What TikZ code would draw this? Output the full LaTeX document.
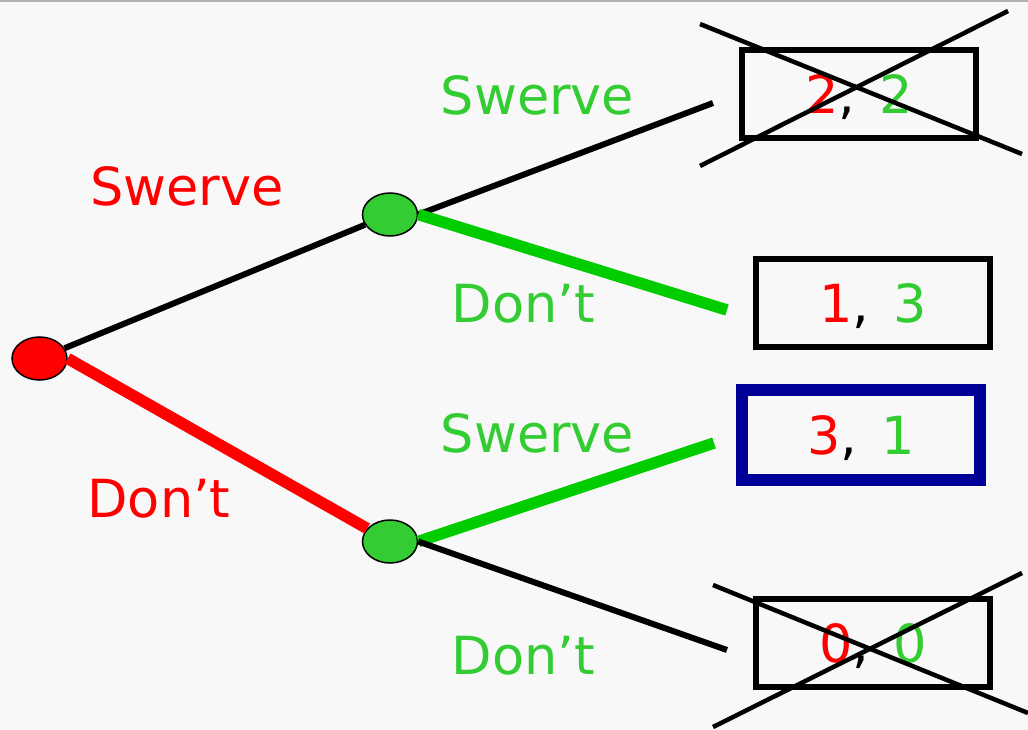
\documentclass[tikz,border=0pt]{standalone}
\usepackage{fontspec}
\setmainfont{DejaVu Sans}
\usetikzlibrary{shapes.geometric}
\definecolor{pred}{RGB}{255,0,0}
\definecolor{pgreen}{RGB}{51,204,51}
\definecolor{lgreen}{RGB}{0,204,0}
\definecolor{pnavy}{RGB}{0,0,153}
\definecolor{paper}{RGB}{248,248,248}
\newcommand{\pay}[2]{\textcolor{pred}{#1},\hspace{0.45em}\textcolor{pgreen}{#2}}

\begin{document}
\begin{tikzpicture}[x=1pt,y=1pt,
        every node/.style={inner sep=0pt, font=\fontsize{52.5}{60}\selectfont},
        move/.style={ellipse, draw=black, line width=1.5pt, minimum width=55pt, minimum height=43pt},
        payoff/.style={draw=black, line width=6pt, minimum width=234pt, minimum height=88pt, text depth=0pt},
        thin/.style={black, line width=6pt},
        best/.style={line width=11.5pt},
        cross/.style={black, line width=4.5pt}]
        % page
        \useasboundingbox (0,0) rectangle (1028,-730);
        \fill [paper] (0,0) rectangle (1028,-730);
        \fill [black!30] (0,0) rectangle (1028,-2);
        % decision points
        \node [move, fill=pred] (root) at (39.5,-358.5) {};
        \node [move, fill=pgreen] (up) at (390,-214.5) {};
        \node [move, fill=pgreen] (down) at (390,-541.5) {};
        % payoffs
        \node [payoff] (p1) at (859,-94) {\pay{2}{2}};
        \node [payoff] (p2) at (873,-303) {\pay{1}{3}};
        \node [payoff, draw=pnavy, line width=12.5pt, minimum width=238pt, minimum height=90pt] (p3) at (861,-435) {\pay{3}{1}};
        \node [payoff] (p4) at (873,-643) {\pay{0}{0}};
        \coordinate (e1) at (713,-103);
        \coordinate (e2) at (727,-310);
        \coordinate (e3) at (714,-443);
        \coordinate (e4) at (727,-650);
        % branches
        \draw [thin] (root) -- (up);
        \draw [best, pred] (root.east) -- (down);
        \draw [thin] (up.east) -- (e1);
        \draw [best, lgreen] (up.east) -- (e2);
        \draw [best, lgreen] (down.east) -- (e3);
        \draw [thin] (down.east) -- (e4);
        % labels
        \node [text=pred] (l1) at (187,-186) {Swerve};
        \node [text=pred] (l2) at (159,-499) {Don’t};
        \node [text=pgreen] (l3) at (537.5,-95) {Swerve};
        \node [text=pgreen] (l4) at (523.5,-304) {Don’t};
        \node [text=pgreen] (l5) at (537.5,-433) {Swerve};
        \node [text=pgreen] (l6) at (523.5,-656) {Don’t};
        % struck out
        \draw [cross] (700,-24) -- (1022,-154);
        \draw [cross] (700,-166) -- (1008,-11);
        \draw [cross] (713,-585) -- (1028,-713);
        \draw [cross] (713,-727) -- (1022,-573);
\end{tikzpicture}
\end{document}
